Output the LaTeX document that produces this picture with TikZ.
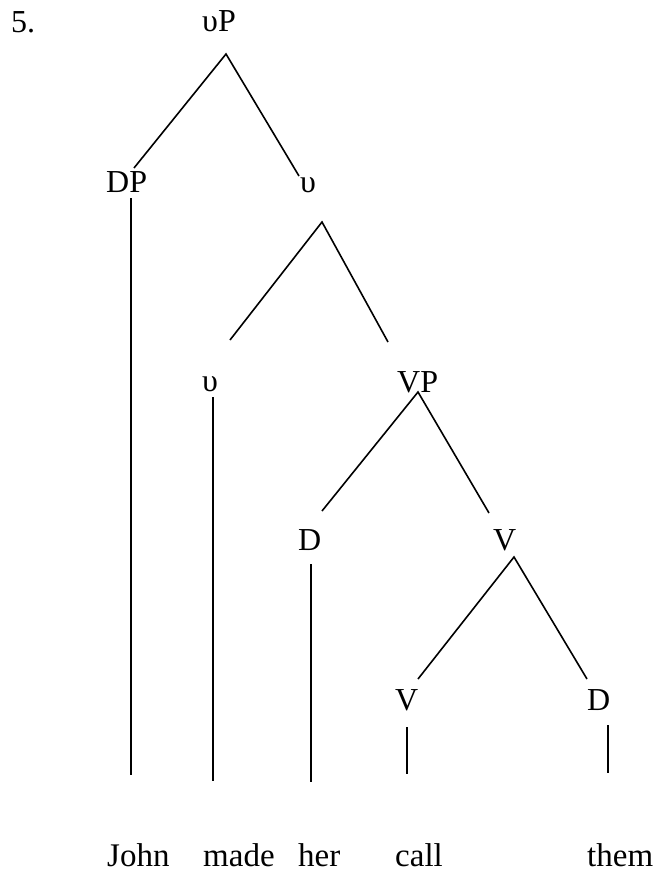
\documentclass[tikz,border=0pt]{standalone}
\usepackage{fontspec}
\setmainfont{Liberation Serif}
\begin{document}
\begin{tikzpicture}[x=1pt,y=-1pt,
  lbl/.style={inner sep=0pt, anchor=base west, font=\fontsize{32}{38}\selectfont},
  wrd/.style={inner sep=0pt, anchor=base west, font=\fontsize{33}{40}\selectfont},
  edge/.style={line width=1.6pt}]
\useasboundingbox (0,0) rectangle (658,873);
% labels
\node[lbl] (num) at (11,32) {5.};
\node[lbl] (vP) at (202,31) {υP};
\node[lbl] (DP) at (106,192) {DP};
\node[lbl] (v1) at (300,192) {υ};
\node[lbl] (v2) at (202,391) {υ};
\node[lbl] (VP) at (397,392) {VP};
\node[lbl] (D1) at (298,550) {D};
\node[lbl] (V1) at (493,550) {V};
\node[lbl] (V2) at (395,710) {V};
\node[lbl] (D2) at (587,710) {D};
% words
\node[wrd] (john) at (107,866) {John};
\node[wrd] (made) at (203,866) {made};
\node[wrd] (her) at (298,866) {her};
\node[wrd] (call) at (395,866) {call};
\node[wrd] (them) at (587,866) {them};
% connector end points
\coordinate (vPb) at (226,54);
\coordinate (DPt) at (134,168);
\coordinate (v1t) at (299,176);
\coordinate (DPb) at (131,198);
\coordinate (DPe) at (131,775);
\coordinate (v1b) at (322,222);
\coordinate (v2t) at (230,340);
\coordinate (VPt) at (388,342);
\coordinate (v2b) at (213,397);
\coordinate (v2e) at (213,781);
\coordinate (VPb) at (418,392);
\coordinate (D1t) at (322,511);
\coordinate (V1t) at (489,513);
\coordinate (D1b) at (311,564);
\coordinate (D1e) at (311,782);
\coordinate (V1b) at (514,557);
\coordinate (V2t) at (418,679);
\coordinate (D2t) at (587,679);
\coordinate (V2b) at (407,727);
\coordinate (V2e) at (407,774);
\coordinate (D2b) at (608,725);
\coordinate (D2e) at (608,773);
% connectors
\draw[edge] (DPt) -- (vPb) -- (v1t);
\draw[edge] (DPb) -- (DPe);
\draw[edge] (v2t) -- (v1b) -- (VPt);
\draw[edge] (v2b) -- (v2e);
\draw[edge] (D1t) -- (VPb) -- (V1t);
\draw[edge] (D1b) -- (D1e);
\draw[edge] (V2t) -- (V1b) -- (D2t);
\draw[edge] (V2b) -- (V2e);
\draw[edge] (D2b) -- (D2e);
\end{tikzpicture}
\end{document}
